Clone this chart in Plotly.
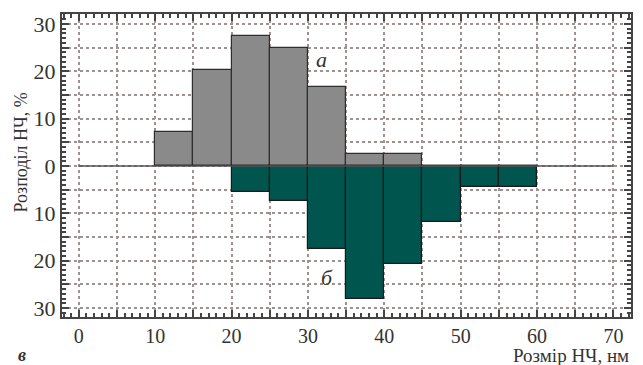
import plotly.graph_objects as go

# Data
bin_left = [10, 15, 20, 25, 30, 35, 40, 45, 50, 55]
series_a = [7.2, 20.2, 27.5, 25.0, 16.6, 2.5, 2.5, 0, 0, 0]      # upper (gray)
series_b = [0, 0, 5.6, 7.4, 17.6, 28.2, 20.8, 11.8, 4.4, 4.4]    # lower (teal)
x_ticks = [0, 10, 20, 30, 40, 50, 60, 70]
y_ticks = [-30, -20, -10, 0, 10, 20, 30]

bin_w = 5
centers = [b + bin_w / 2 for b in bin_left]

FONT = "Liberation Serif, Times New Roman, serif"
fig = go.Figure()
fig.add_trace(go.Bar(x=centers, y=series_a, width=bin_w,
                     marker=dict(color="#8a8a8a", line=dict(color="#2e2e2e", width=1.2)),
                     showlegend=False))
fig.add_trace(go.Bar(x=centers, y=[-v for v in series_b], width=bin_w,
                     marker=dict(color="#00554f", line=dict(color="#1a1a1a", width=1.2)),
                     showlegend=False))

xt5 = list(range(0, 75, 5))
yt5 = list(range(-30, 35, 5))
fig.update_layout(
    width=643, height=365, barmode="overlay", bargap=0,
    paper_bgcolor="white", plot_bgcolor="white",
    margin=dict(l=62, r=10, t=14, b=48),
    font=dict(family=FONT, color="#333", size=19),
    xaxis=dict(range=[-2.2, 72.3], tickvals=xt5,
               ticktext=[str(v) if v in x_ticks else "" for v in xt5],
               ticks="inside", ticklen=7, tickwidth=1.5, tickcolor="#444",
               showline=True, linecolor="#444", linewidth=2, mirror="allticks",
               showgrid=True, gridcolor="#a09090", griddash="dot", gridwidth=1.5,
               zeroline=False,
               minor=dict(dtick=1, ticks="inside", ticklen=4, tickcolor="#444", showgrid=False),
               tickfont=dict(size=20)),
    yaxis=dict(range=[-31.9, 32.1], tickvals=yt5,
               ticktext=[str(abs(v)) if v in y_ticks else "" for v in yt5],
               ticks="inside", ticklen=7, tickwidth=1.5, tickcolor="#444",
               showline=True, linecolor="#444", linewidth=2, mirror="allticks",
               showgrid=True, gridcolor="#a09090", griddash="dot", gridwidth=1.5,
               zeroline=False,
               minor=dict(dtick=1, ticks="inside", ticklen=4, tickcolor="#444", showgrid=False),
               tickfont=dict(size=22)),
)
fig.add_shape(type="line", x0=0, x1=70, y0=0, y1=0, xref="x", yref="y",
              line=dict(color="#555", width=1.5), layer="above")

fig.add_annotation(x=31.8, y=22.4, text="<i>а</i>", showarrow=False,
                   font=dict(size=22, family=FONT, color="#333"))
fig.add_annotation(x=32.5, y=-23.5, text="<i>б</i>", showarrow=False,
                   font=dict(size=22, family=FONT, color="#333"))
fig.add_annotation(x=1, y=0, xref="paper", yref="paper", xanchor="right", yanchor="top",
                   yshift=-26, text="Розмір НЧ, нм", showarrow=False,
                   font=dict(size=19, family=FONT, color="#333"))
fig.add_annotation(x=0, y=0, xref="paper", yref="paper", xanchor="center", yanchor="top",
                   xshift=-40, yshift=-26, text="<b><i>в</i></b>", showarrow=False,
                   font=dict(size=18, family=FONT, color="#333"))
fig.add_annotation(x=0, y=0.5, xref="paper", yref="paper", xanchor="center", yanchor="middle",
                   xshift=-42, yshift=13, text="Розподіл НЧ, %", textangle=-90, showarrow=False,
                   font=dict(size=18, family=FONT, color="#333"))

fig.write_html("out.html", config={"displayModeBar": False},
               post_script="document.body.style.margin='0';document.body.style.overflow='hidden';")
